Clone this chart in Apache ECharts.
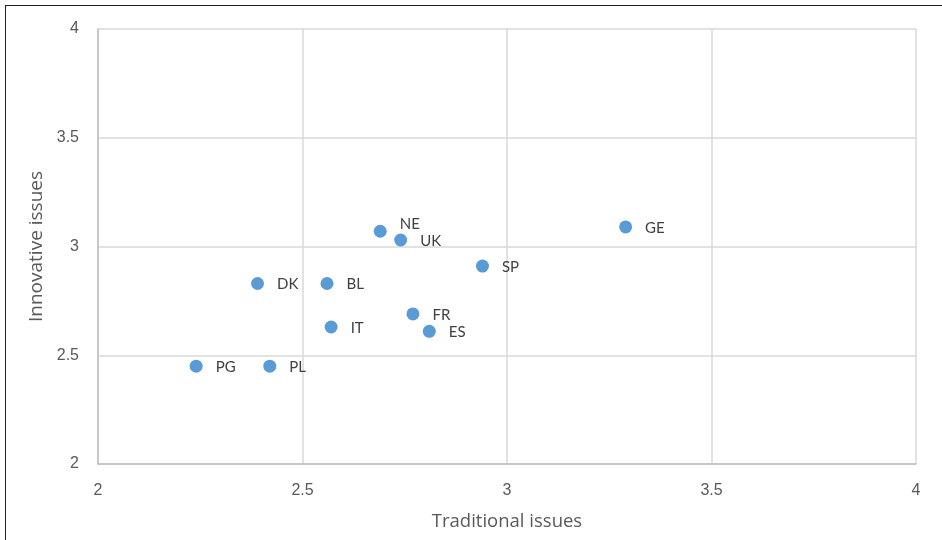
<!DOCTYPE html>
<html>
<head>
<meta charset="utf-8">
<script src="https://cdn.jsdelivr.net/npm/echarts@6/dist/echarts.min.js"></script>
<style>
  html, body { margin: 0; padding: 0; background: #fff; }
  #frame { position: absolute; left: 5px; top: 5px; width: 940px; height: 538px;
           border-left: 1.5px solid #222; border-top: 1.5px solid #222; box-sizing: border-box; }
  #chart { position: absolute; left: 0; top: 0; width: 942px; height: 540px; }
</style>
</head>
<body>
<div id="frame"></div>
<div id="chart"></div>
<script>
// Country codes and their scores on the two issue dimensions
const countries   = ['PG', 'PL', 'DK', 'BL', 'IT', 'NE', 'UK', 'FR', 'ES', 'SP', 'GE'];
const traditional = [2.24, 2.42, 2.39, 2.56, 2.57, 2.69, 2.74, 2.77, 2.81, 2.94, 3.29];
const innovative  = [2.45, 2.45, 2.83, 2.83, 2.63, 3.07, 3.03, 2.69, 2.61, 2.91, 3.09];

// Labels that sit a little above their dot
const raisedLabels = { NE: -7 };

const points = countries.map((c, i) => ({
  value: [traditional[i], innovative[i]],
  name: c,
  label: { offset: [0, raisedLabels[c] || 1] }
}));

const nameFont = '"Open Sans", Lato, sans-serif';
const tickFont = '"Liberation Sans", Arial, sans-serif';
const labelFont = 'Lato, "Open Sans", sans-serif';
const chart = echarts.init(document.getElementById('chart'), null, { renderer: 'canvas' });
chart.setOption({
  animation: false,
  grid: { left: 98, top: 29, right: 26, bottom: 76 },
  xAxis: {
    type: 'value', min: 2, max: 4, interval: 0.5,
    name: 'Traditional issues', nameLocation: 'middle', nameGap: 48,
    nameTextStyle: { color: '#595959', fontSize: 18.5, fontFamily: nameFont },
    axisLine: { show: true, lineStyle: { color: '#bfbfbf', width: 1.5 } },
    axisTick: { show: false },
    axisLabel: { color: '#595959', fontSize: 16, fontFamily: tickFont, margin: 19 },
    splitLine: { show: true, lineStyle: { color: '#d9d9d9', width: 1.5 } }
  },
  yAxis: {
    type: 'value', min: 2, max: 4, interval: 0.5,
    name: 'Innovative issues', nameLocation: 'middle', nameGap: 50,
    nameTextStyle: { color: '#595959', fontSize: 19, fontFamily: nameFont },
    axisLine: { show: true, lineStyle: { color: '#bfbfbf', width: 1.5 } },
    axisTick: { show: false },
    axisLabel: { color: '#595959', fontSize: 16, fontFamily: tickFont, margin: 19 },
    splitLine: { show: true, lineStyle: { color: '#d9d9d9', width: 1.5 } }
  },
  series: [{
    type: 'scatter',
    symbol: 'circle',
    symbolSize: 13,
    itemStyle: { color: '#5b9bd5', opacity: 1 },
    label: {
      show: true, position: 'right', distance: 13,
      formatter: p => p.name,
      color: '#404040', fontSize: 15, fontFamily: labelFont
    },
    data: points
  }]
});
</script>
</body>
</html>
